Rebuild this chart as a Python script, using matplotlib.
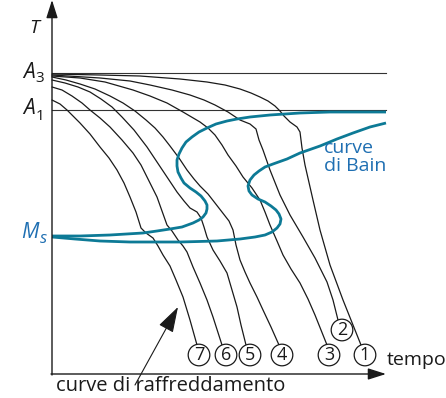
import matplotlib.pyplot as plt

plt.rcParams['font.family'] = ['Open Sans', 'DejaVu Sans']

# schematic in picture units (x to the right, y downward)
A3_Y = 73
A1_Y = 110

# cooling curves 1..7 (x, y points)
curve1 = [(52, 74), (100, 75), (140, 76), (180, 79), (207, 82), (225, 85), (240, 89), (251, 93),
          (260, 97), (268, 101), (275, 106), (280, 111), (284, 116), (290, 122), (297, 127),
          (300, 132), (302, 148), (305, 165), (313, 200), (320, 230), (330, 265), (343, 300),
          (355, 330), (361, 345)]
curve2 = [(52, 75), (100, 78), (130, 81), (150, 85), (172, 90), (190, 95), (204, 100), (215, 105),
          (228, 112), (240, 120), (250, 124), (256, 129), (259, 140), (263, 150), (270, 170),
          (280, 195), (290, 215), (303, 237), (315, 258), (327, 282), (333, 300), (338, 320)]
curve3 = [(52, 76), (80, 78), (105, 82), (133, 90), (150, 96), (167, 103), (183, 112), (200, 122),
          (208, 128), (215, 135), (222, 145), (228, 155), (236, 166), (243, 177), (252, 188),
          (260, 200), (265, 212), (270, 225), (277, 241), (283, 255), (291, 269), (300, 283),
          (308, 299), (315, 315), (321, 330), (327, 345)]
curve4 = [(52, 77), (66, 80), (80, 84), (95, 89), (110, 96), (123, 103), (135, 111), (146, 120),
          (155, 128), (163, 137), (170, 146), (179, 158), (187, 170), (194, 179), (200, 186),
          (208, 194), (215, 203), (222, 212), (229, 221), (233, 230), (236, 245), (240, 260),
          (245, 272), (250, 283), (257, 297), (263, 310), (271, 327), (279, 345)]
curve5 = [(52, 80), (65, 83), (78, 87), (90, 92), (101, 99), (112, 107), (122, 117), (134, 130),
          (147, 147), (157, 162), (167, 177), (177, 192), (184, 201), (190, 208), (197, 212),
          (201, 218), (204, 227), (207, 237), (213, 250), (220, 261), (227, 273), (232, 290),
          (237, 307), (241, 325), (246, 345)]
curve6 = [(52, 87), (62, 90), (72, 96), (82, 103), (90, 110), (100, 118), (110, 127), (122, 140),
          (133, 153), (141, 165), (147, 177), (152, 187), (157, 197), (162, 211), (167, 225),
          (172, 231), (178, 240), (183, 246), (187, 252), (193, 267), (200, 283), (207, 300),
          (213, 317), (222, 345)]
curve7 = [(52, 100), (60, 104), (67, 110), (80, 123), (90, 134), (100, 147), (109, 158), (117, 170),
          (124, 183), (130, 197), (136, 212), (141, 228), (146, 233), (153, 238), (158, 246),
          (163, 255), (170, 266), (176, 280), (183, 297), (190, 320), (197, 345)]
cooling = [curve1, curve2, curve3, curve4, curve5, curve6, curve7]

# Bain curves (start and end of transformation)
bain_start = [(386, 112), (330, 112), (300, 113), (270, 115), (250, 117), (237, 119), (227, 121),
              (216, 124), (207, 128), (199, 132), (192, 137), (186, 142), (182, 148), (179, 154),
              (177, 160), (177, 166), (178, 172), (181, 178), (184, 183), (190, 188), (196, 192),
              (201, 196), (205, 201), (207, 205), (207, 209), (206, 213), (203, 217), (199, 220),
              (193, 223), (182, 227), (170, 229), (157, 231), (143, 233), (110, 235), (80, 236),
              (52, 236)]
bain_end = [(386, 123), (370, 127), (353, 133), (337, 139), (320, 146), (300, 153), (287, 159),
            (273, 164), (265, 167), (259, 171), (254, 175), (250, 180), (248, 186), (249, 191),
            (252, 195), (258, 199), (265, 202), (271, 206), (276, 210), (279, 214), (281, 219),
            (280, 224), (277, 228), (272, 232), (265, 235), (255, 237), (240, 239), (217, 241),
            (180, 242), (130, 242), (100, 241), (75, 239), (52, 237)]

# circled labels: text, x, y
labels = ['1', '2', '3', '4', '5', '6', '7']
label_x = [365, 342, 329, 282, 250, 226, 199]
label_y = [355, 330, 355, 355, 355, 355, 355]

black = '#1a1a1a'
teal = '#0d7a96'
blue_txt = '#1f6fb2'

fig = plt.figure(figsize=(4.46, 3.98), dpi=100)
ax = fig.add_axes([0, 0, 1, 1])
ax.set_xlim(0, 446)
ax.set_ylim(398, 0)
ax.axis('off')

# axes with arrows
ax.annotate('', xy=(52, 0), xytext=(52, 375),
            arrowprops=dict(arrowstyle='-|>,head_length=1.1,head_width=0.35', color=black, lw=1.0,
                            shrinkA=0, shrinkB=0))
ax.annotate('', xy=(386, 374), xytext=(51, 374),
            arrowprops=dict(arrowstyle='-|>,head_length=1.1,head_width=0.35', color=black, lw=1.0,
                            shrinkA=0, shrinkB=0))

# A3 and A1 lines
ax.plot([52, 386], [A3_Y, A3_Y], color='#333333', lw=0.8)
ax.plot([52, 386], [A1_Y, A1_Y], color='#333333', lw=0.8)

for c in cooling:
    ax.plot([p[0] for p in c], [p[1] for p in c], color=black, lw=0.9,
            solid_joinstyle='round', solid_capstyle='round')

for c in (bain_start, bain_end):
    ax.plot([p[0] for p in c], [p[1] for p in c], color=teal, lw=2.0,
            solid_joinstyle='round', solid_capstyle='butt')

for t, x, y in zip(labels, label_x, label_y):
    ax.text(x, y, t, ha='center', va='center', fontsize=13, color=black,
            bbox=dict(boxstyle='circle,pad=0.1', fc='white', ec=black, lw=0.9))

# axis labels
ax.text(34, 28, 'T', ha='center', va='center', fontsize=14, style='italic', color=black)
ax.text(29, 72, 'A', ha='center', va='center', fontsize=15, style='italic', color=black)
ax.text(40, 78, '3', ha='center', va='center', fontsize=11, color=black)
ax.text(29, 109, 'A', ha='center', va='center', fontsize=15, style='italic', color=black)
ax.text(40, 116, '1', ha='center', va='center', fontsize=11, color=black)
ax.text(30, 233, 'M', ha='center', va='center', fontsize=15, style='italic', color=blue_txt)
ax.text(43, 239, 's', ha='center', va='center', fontsize=12, style='italic', color=blue_txt)

ax.text(324, 157, 'curve\ndi Bain', ha='left', va='center', fontsize=14, color=blue_txt,
        linespacing=1.05)
ax.text(387, 360, 'tempo', ha='left', va='center', fontsize=14, color=black)
ax.text(171, 386, 'curve di raffreddamento', ha='center', va='center', fontsize=14.5, color=black)

ax.annotate('', xy=(178, 307), xytext=(135, 385),
            arrowprops=dict(arrowstyle='-|>,head_length=1.6,head_width=0.5', color=black, lw=0.8,
                            shrinkA=0, shrinkB=0))

fig.savefig('out.png', dpi=100)
